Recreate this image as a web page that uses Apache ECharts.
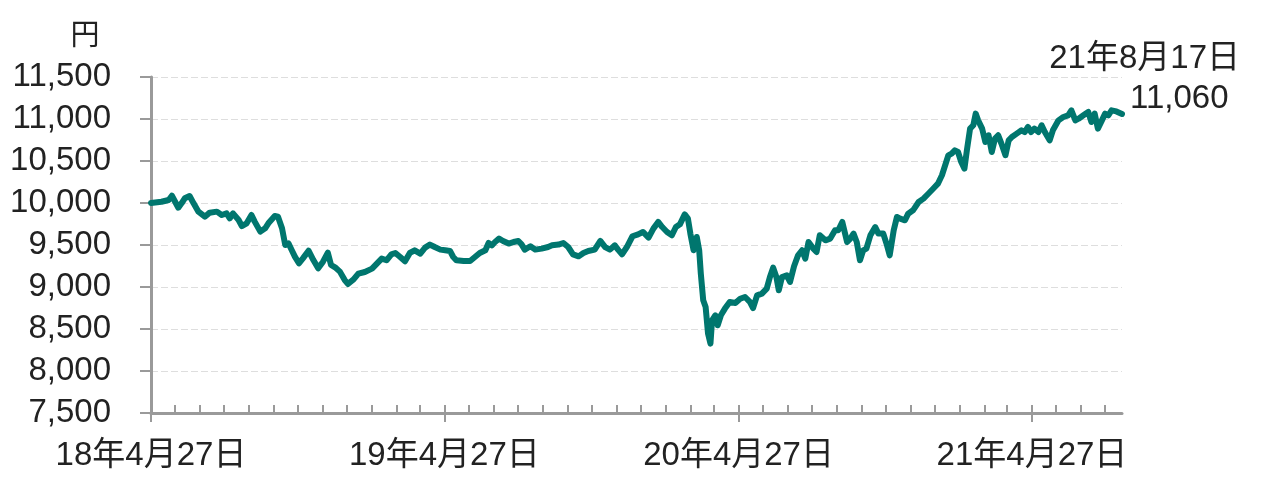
<!DOCTYPE html>
<html><head><meta charset="utf-8">
<script src="https://cdn.jsdelivr.net/npm/echarts@6/dist/echarts.min.js"></script>
<style>html,body{margin:0;padding:0;background:#fff}#c{width:1280px;height:480px}</style>
</head><body><div id="c"></div>
<script>
const startDate = '2018-04-27';
const endDate = '2021-08-17';
const dates = [
'2018-04-27','2018-05-10','2018-05-19','2018-05-23','2018-05-27','2018-05-31','2018-06-04','2018-06-08','2018-06-14','2018-06-19','2018-06-25',
'2018-07-03','2018-07-09','2018-07-18','2018-07-24','2018-07-30','2018-08-03','2018-08-07','2018-08-14','2018-08-18','2018-08-24','2018-08-30',
'2018-09-03','2018-09-10','2018-09-16','2018-09-20','2018-09-28','2018-10-02','2018-10-07','2018-10-11','2018-10-15','2018-10-19','2018-10-23','2018-10-28',
'2018-11-02','2018-11-09','2018-11-15','2018-11-21','2018-11-27','2018-12-03','2018-12-07','2018-12-12','2018-12-18','2018-12-24','2018-12-28',
'2019-01-04','2019-01-10','2019-01-18','2019-01-27','2019-02-02','2019-02-08','2019-02-14','2019-02-20','2019-02-25','2019-03-03','2019-03-09',
'2019-03-15','2019-03-21','2019-03-28','2019-04-03','2019-04-09','2019-04-15','2019-04-22','2019-04-28','2019-05-04','2019-05-08','2019-05-12',
'2019-05-21','2019-05-29','2019-06-04','2019-06-10','2019-06-17','2019-06-21','2019-06-25','2019-06-29','2019-07-04','2019-07-09','2019-07-16',
'2019-07-22','2019-07-28','2019-08-01','2019-08-05','2019-08-12','2019-08-18','2019-08-26','2019-09-03','2019-09-08','2019-09-16','2019-09-22',
'2019-09-28','2019-10-04','2019-10-11','2019-10-17','2019-10-23','2019-10-31','2019-11-07','2019-11-13','2019-11-19','2019-11-25','2019-11-29',
'2019-12-04','2019-12-10','2019-12-17','2019-12-24','2019-12-30',
'2020-01-06','2020-01-12','2020-01-18','2020-01-23','2020-01-29','2020-02-04','2020-02-09','2020-02-14','2020-02-20','2020-02-24','2020-02-27',
'2020-03-02','2020-03-06','2020-03-09','2020-03-11','2020-03-14','2020-03-17','2020-03-20','2020-03-23','2020-03-25','2020-03-29','2020-04-01',
'2020-04-05','2020-04-10','2020-04-16','2020-04-23','2020-04-29','2020-05-05','2020-05-11','2020-05-15','2020-05-20','2020-05-26','2020-06-01',
'2020-06-05','2020-06-09','2020-06-13','2020-06-16','2020-06-20','2020-06-26','2020-06-30','2020-07-05','2020-07-10','2020-07-15','2020-07-19',
'2020-07-23','2020-07-29','2020-08-02','2020-08-06','2020-08-13','2020-08-19','2020-08-25','2020-08-29','2020-09-03','2020-09-09','2020-09-13',
'2020-09-17','2020-09-21','2020-09-25','2020-09-29','2020-10-03','2020-10-08','2020-10-14','2020-10-18','2020-10-24','2020-10-28','2020-11-01',
'2020-11-06','2020-11-10','2020-11-14','2020-11-20','2020-11-24','2020-11-30','2020-12-07','2020-12-13','2020-12-19','2020-12-25','2020-12-31',
'2021-01-05','2021-01-09','2021-01-13','2021-01-17','2021-01-21','2021-01-25','2021-01-29','2021-02-02','2021-02-05','2021-02-09','2021-02-13',
'2021-02-16','2021-02-19','2021-02-24','2021-02-28','2021-03-04','2021-03-08','2021-03-12','2021-03-16','2021-03-20','2021-03-25','2021-03-29',
'2021-04-02','2021-04-08','2021-04-14','2021-04-18','2021-04-22','2021-04-26','2021-04-30','2021-05-05','2021-05-09','2021-05-13','2021-05-19',
'2021-05-23','2021-05-30','2021-06-05','2021-06-11','2021-06-15','2021-06-20','2021-06-24','2021-06-30','2021-07-06','2021-07-10','2021-07-14',
'2021-07-18','2021-07-23','2021-07-27','2021-07-31','2021-08-04','2021-08-10','2021-08-17'
];
const prices = [
10000,10015,10036,10087,10015,9944,9996,10056,10083,9996,9897,
9837,9885,9897,9857,9877,9818,9877,9798,9726,9758,9857,
9778,9659,9699,9758,9845,9837,9699,9500,9520,9440,9361,9282,
9341,9432,9321,9222,9302,9409,9262,9234,9183,9083,9036,
9090,9160,9179,9219,9279,9338,9318,9389,9405,9357,9306,
9405,9437,9398,9469,9505,9476,9445,9437,9429,9357,9318,
9310,9310,9357,9405,9437,9524,9496,9536,9576,9548,9517,
9536,9548,9508,9445,9485,9445,9457,9476,9496,9505,9524,
9476,9389,9365,9405,9429,9445,9548,9476,9445,9496,9445,
9389,9476,9604,9627,9655,
9588,9695,9774,9714,9655,9616,9714,9746,9865,9814,9636,
9437,9595,9437,9160,8842,8762,8445,8326,8604,8663,8544,
8663,8743,8822,8810,8860,8881,8822,8750,8901,8921,8981,
9119,9231,9119,8961,9119,9139,9060,9246,9377,9437,9338,
9536,9457,9417,9616,9556,9576,9675,9675,9774,9536,9576,
9636,9536,9318,9437,9457,9616,9714,9636,9636,9517,9377,
9675,9833,9814,9794,9873,9913,10012,10052,10110,10170,10230,
10330,10449,10568,10588,10627,10607,10488,10409,10627,10885,10925,
11064,10984,10885,10726,10806,10607,10766,10806,10707,10568,10746,
10786,10826,10865,10845,10905,10845,10885,10845,10925,10845,10746,
10865,10984,11024,11044,11103,10984,11004,11044,11083,10964,11064,
10885,10984,11064,11044,11103,11090,11060
];
const yMin = 7500, yMax = 11500, yStep = 500;
const xLabelDates = ['2018-04-27','2019-04-27','2020-04-27','2021-04-27'];
const xLabels = ['18年4月27日','19年4月27日','20年4月27日','21年4月27日'];
const unitLabel = '円';
const endDateLabel = '21年8月17日';
const endValueLabel = '11,060';

const FONT = "'Liberation Sans', 'Noto Sans CJK JP', sans-serif";
const LINE_COLOR = '#00766e';
const AXIS_COLOR = '#9a9a9a';
const TEXT_COLOR = '#222';

function dayOf(s) {
  const p = s.split('-').map(Number);
  const q = startDate.split('-').map(Number);
  return Math.round((Date.UTC(p[0], p[1]-1, p[2]) - Date.UTC(q[0], q[1]-1, q[2])) / 86400000);
}
const xMax = dayOf(endDate);
// monthly tick positions on the 27th
const monthTicks = [];
for (let y = 2018, m = 4; ; ) {
  const s = y + '-' + String(m).padStart(2, '0') + '-27';
  const d = dayOf(s);
  if (d > xMax) break;
  monthTicks.push(d);
  m++; if (m > 12) { m = 1; y++; }
}
const labelDays = xLabelDates.map(dayOf);
const seriesData = dates.map((d, i) => [dayOf(d), prices[i]]);

const chart = echarts.init(document.getElementById('c'), null, { renderer: 'canvas' });
chart.setOption({
  animation: false,
  backgroundColor: '#fff',
  grid: { left: 151, right: 158, top: 77, bottom: 67, outerBoundsMode: 'none' },
  xAxis: [{
    type: 'value', min: 0, max: xMax, position: 'bottom',
    splitLine: { show: false },
    axisLine: { show: true, onZero: false, lineStyle: { color: AXIS_COLOR, width: 3 } },
    axisTick: { show: true, inside: true, length: 8, customValues: monthTicks, lineStyle: { color: AXIS_COLOR, width: 2 } },
    axisLabel: {
      show: true, customValues: labelDays, margin: 26,
      fontFamily: FONT, fontSize: 33, color: TEXT_COLOR,
      formatter: v => { const i = labelDays.indexOf(Math.round(v)); return i >= 0 ? xLabels[i] : ''; }
    }
  }, {
    type: 'value', min: 0, max: xMax, position: 'bottom', gridIndex: 0,
    splitLine: { show: false },
    axisLine: { show: false, onZero: false },
    axisTick: { show: true, inside: false, length: 9, customValues: labelDays, lineStyle: { color: AXIS_COLOR, width: 2 } },
    axisLabel: { show: false }
  }],
  yAxis: {
    type: 'value', min: yMin, max: yMax, interval: yStep,
    axisLine: { show: true, lineStyle: { color: AXIS_COLOR, width: 3 } },
    axisTick: { show: true, inside: false, length: 11, lineStyle: { color: AXIS_COLOR, width: 2 } },
    splitLine: { show: true, lineStyle: { color: '#dedede', width: 1, type: [7, 3] } },
    axisLabel: {
      margin: 40, fontFamily: FONT, fontSize: 33, color: TEXT_COLOR,
      formatter: v => v.toLocaleString('en-US')
    }
  },
  series: [{
    type: 'line', xAxisIndex: 0, yAxisIndex: 0,
    data: seriesData, showSymbol: false, symbol: 'none',
    lineStyle: { color: LINE_COLOR, width: 6, join: 'round', cap: 'round' },
    z: 5
  }]
});

const last = seriesData[seriesData.length - 1];
const p = chart.convertToPixel({ xAxisIndex: 0, yAxisIndex: 0 }, last);
chart.setOption({
  graphic: [
    { type: 'text', x: p[0] + 8, y: p[1] - 15, style: { text: endValueLabel, font: "33px " + FONT, fill: TEXT_COLOR, textAlign: 'left', textVerticalAlign: 'middle' } },
    { type: 'text', x: p[0] + 118, y: p[1] - 55, style: { text: endDateLabel, font: "33px " + FONT, fill: TEXT_COLOR, textAlign: 'right', textVerticalAlign: 'middle' } },
    { type: 'text', x: 85, y: 37, style: { text: unitLabel, font: "29px " + FONT, fill: TEXT_COLOR, textAlign: 'center', textVerticalAlign: 'middle' } }
  ]
});
</script>
</body></html>
